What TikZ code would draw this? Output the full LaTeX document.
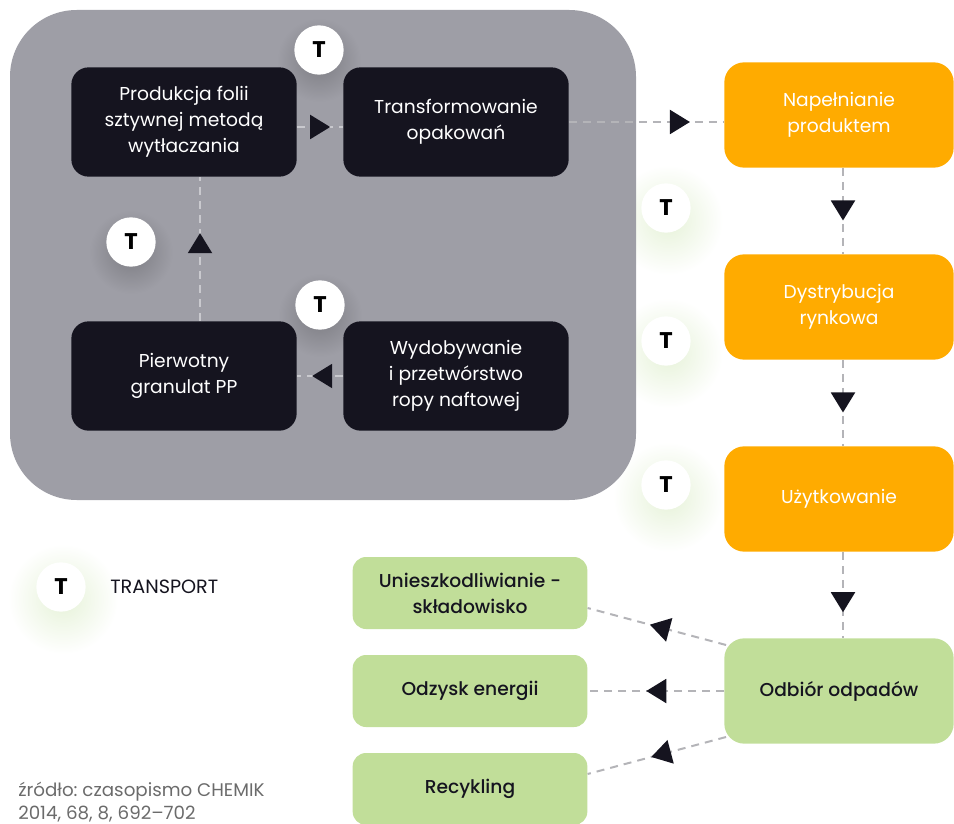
\documentclass[tikz,border=0pt]{standalone}
\usepackage{fontspec}
\setmainfont{Poppins}
\newfontfamily\poppinsmed{Poppins Medium}
\usepackage{tikz}
\usetikzlibrary{arrows.meta, positioning, calc, decorations.markings}
\frenchspacing

\definecolor{panelgrey}{HTML}{9E9EA6}
\definecolor{boxdark}{HTML}{15141F}
\definecolor{boxorange}{HTML}{FFAB00}
\definecolor{boxgreen}{HTML}{C1DE99}
\definecolor{dashin}{HTML}{C9C9CE}
\definecolor{dashout}{HTML}{B4B4B8}
\definecolor{srcgrey}{HTML}{6B6B6B}
\definecolor{glowgreen}{HTML}{E6F2D8}

\begin{document}
\begin{tikzpicture}[x=0.75pt, y=-0.75pt,
  darkbox/.style={fill=boxdark, rounded corners=13pt, minimum width=169pt, minimum height=82pt,
    align=center, text=white, font=\fontsize{14}{19.5}\selectfont},
  orangebox/.style={fill=boxorange, rounded corners=15pt, minimum width=172pt, minimum height=79pt,
    align=center, text=white, font=\fontsize{14}{19.5}\selectfont},
  greenbox/.style={fill=boxgreen, rounded corners=10pt, minimum width=176pt, minimum height=54pt,
    align=center, text=boxdark, font=\poppinsmed\fontsize{14}{19.5}\selectfont},
  tcircle/.style={circle, fill=white, minimum size=37pt, inner sep=0pt,
    font=\bfseries\fontsize{17}{17}\selectfont},
  glowin/.style={inner color=panelgrey!78!black, outer color=panelgrey},
  glowout/.style={inner color=glowgreen, outer color=white},
  flow/.style={draw=#1, line width=1.5pt, dash pattern=on 6pt off 4.5pt},
  tip/.style={postaction={decorate}, decoration={markings,
    mark=at position #1 with {\arrow{Triangle[length=15pt, width=18pt, color=boxdark]}}}}
]
\useasboundingbox (0,0) rectangle (954,824);

% soft glow under the outer T marks
\shade[glowout] (668,220) circle (55);
\shade[glowout] (668,353) circle (55);
\shade[glowout] (668,497) circle (55);
\shade[glowout] (63,599) circle (55);

% grey panel
\fill[panelgrey, rounded corners=50pt] (10,10) rectangle (636,500);

% soft glow under the inner T marks
\shade[glowin] (319,60) circle (42);
\shade[glowin] (131,252) circle (42);
\shade[glowin] (320,315) circle (42);

% production steps
\node[darkbox] (prod) at (184,122) {Produkcja folii\\sztywnej metodą\\wytłaczania};
\node[darkbox] (trans) at (456,122) {Transformowanie\\opakowań};
\node[darkbox] (pierw) at (184,376) {Pierwotny\\granulat PP};
\node[darkbox] (wydob) at (456,376) {Wydobywanie\\i przetwórstwo\\ropy naftowej};

% use phase
\node[orangebox] (napel) at (839,115) {Napełnianie\\produktem};
\node[orangebox] (dystr) at (839,307) {Dystrybucja\\rynkowa};
\node[orangebox] (uzytk) at (839,499) {Użytkowanie};

% waste
\node[greenbox, minimum width=172pt, minimum height=79pt, rounded corners=15pt] (odbior) at (839,691) {Odbiór odpadów};
\node[greenbox] (uniesz) at (470,593) {Unieszkodliwianie -\\składowisko};
\node[greenbox] (odzysk) at (470,691) {Odzysk energii};
\node[greenbox] (recykl) at (470,789) {Recykling};

% connectors
\draw[flow=dashin, tip=0.72] ($(prod.east)+(0,5)$) -- ($(trans.west)+(0,5)$);
\draw[flow=dashin, tip=0.61] ($(pierw.north)+(16,0)$) -- ($(prod.south)+(16,0)$);
\draw[flow=dashin, tip=0.67] (wydob.west) -- (pierw.east);
\draw[flow=dashout, tip=0.78] (trans.east) -- (trans.east -| napel.west);
\draw[flow=dashout, tip=0.61] ($(napel.south)+(4,0)$) -- ($(dystr.north)+(4,0)$);
\draw[flow=dashout, tip=0.61] ($(dystr.south)+(4,0)$) -- ($(uzytk.north)+(4,0)$);
\draw[flow=dashout, tip=0.70] ($(uzytk.south)+(4,0)$) -- ($(odbior.north)+(4,0)$);
\draw[flow=dashout, tip=0.55] ($(odbior.west)+(2,-46)$) -- ($(uniesz.east)+(0,15)$);
\draw[flow=dashout, tip=0.57] (odbior.west) -- (odzysk.east);
\draw[flow=dashout, tip=0.54] ($(odbior.west)+(2,46)$) -- ($(recykl.east)+(0,-15)$);

% transport marks
\node[tcircle] (t1) at (319,50) {T};
\node[tcircle] (t2) at (131,242) {T};
\node[tcircle] (t3) at (320,305) {T};
\node[tcircle] (t4) at (666,208) {T};
\node[tcircle] (t5) at (666,341) {T};
\node[tcircle] (t6) at (666,485) {T};

% legend
\node[tcircle] (tleg) at (61,587) {T};
\node[anchor=west, text=boxdark, inner sep=0pt, font=\fontsize{14.4}{14}\selectfont] (tlegtxt) at (110,587) {TRANSPORT};

% source
\node[anchor=north west, align=left, text=srcgrey, inner sep=0pt,
  font=\fontsize{13.7}{16.8}\selectfont] (zrodlo) at (18,782) {źródło: czasopismo CHEMIK\\2014, 68, 8, 692--702};
\end{tikzpicture}
\end{document}
